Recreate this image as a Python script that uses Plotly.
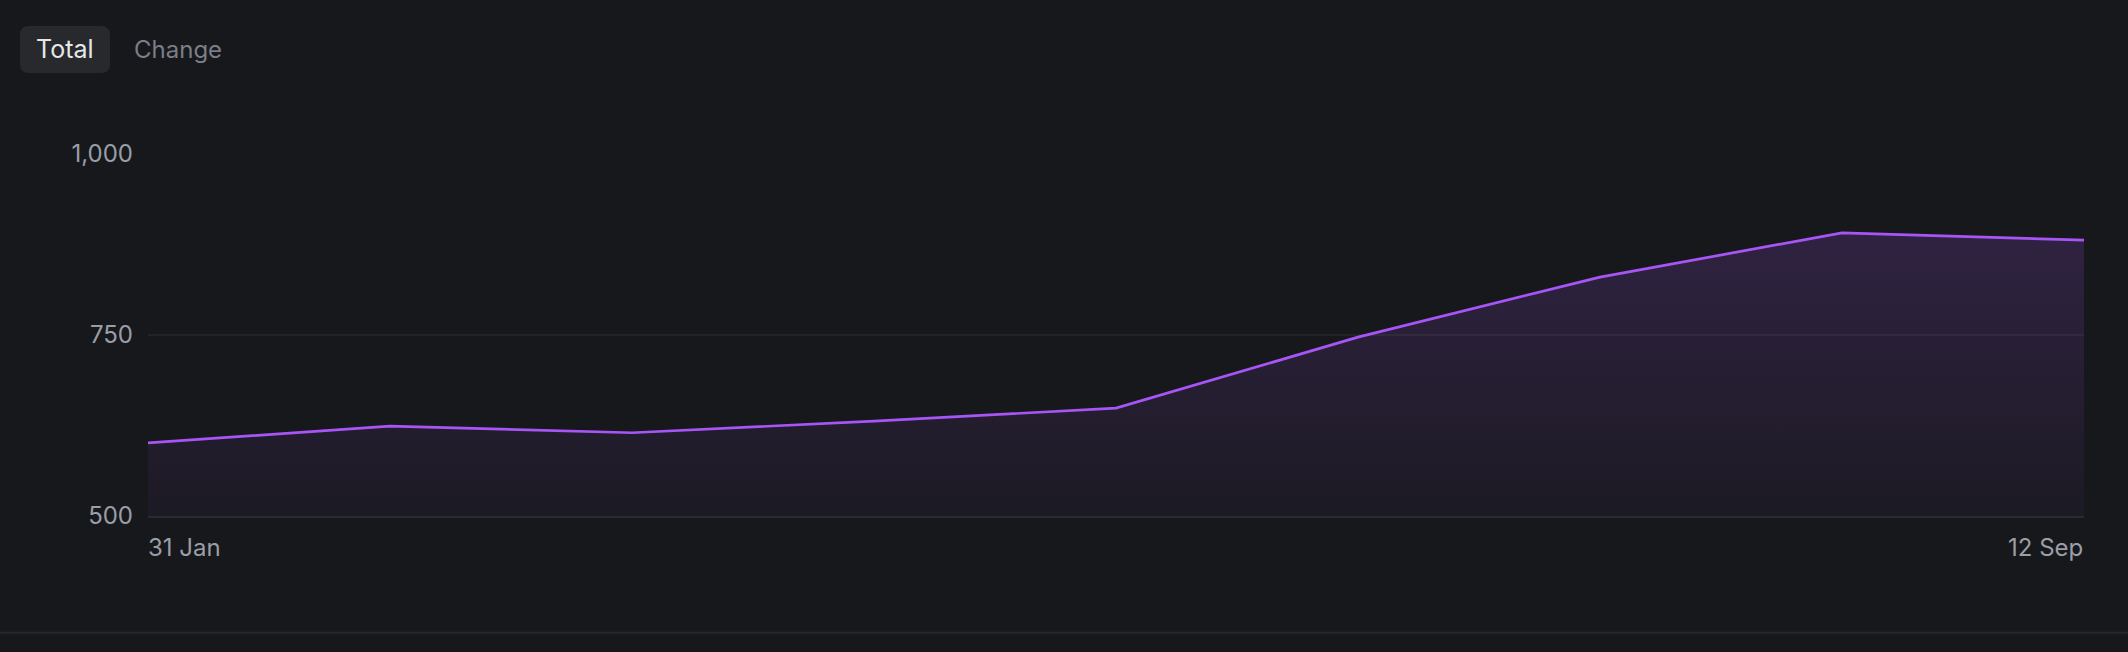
import plotly.graph_objects as go

# ---- data ----
dates = ["2025-01-31", "2025-02-28", "2025-03-28", "2025-04-25", "2025-05-23",
         "2025-06-20", "2025-07-18", "2025-08-15", "2025-09-12"]
totals = [601, 624, 615, 631, 649, 747, 830, 891, 881]
y_ticks = [500, 750, 1000]
y_tick_labels = ["500", "750", "1,000"]
x_edge_labels = ["31 Jan", "12 Sep"]
tabs = ["Total", "Change"]

W, H = 2128, 652
L, R = 148, 2084
T, B = 154, 515.7
pw, ph = R - L, B - T

def px(x):
    return (x - L) / pw

def py(y):
    return (B - y) / ph

BG = "#17181c"
PURPLE = "#a855f7"
FONT = "Inter"

fig = go.Figure()
fig.add_trace(go.Scatter(
    x=dates, y=totals, mode="lines",
    line=dict(color=PURPLE, width=2.7),
    fill="tozeroy",
    fillgradient=dict(type="vertical", start=500, stop=max(totals),
                      colorscale=[[0, "rgba(168,85,247,0.035)"], [1, "rgba(168,85,247,0.17)"]]),
    hoverinfo="skip", showlegend=False,
))

shapes = []
# tab box (rounded rect) for "Total"
x0, x1, y0, y1, r = 20, 110, 26, 73, 9
rx, ry = r / pw, r / ph
X0, X1, Y0, Y1 = px(x0), px(x1), py(y1), py(y0)
path = (f"M {X0+rx},{Y0} L {X1-rx},{Y0} Q {X1},{Y0} {X1},{Y0+ry} "
        f"L {X1},{Y1-ry} Q {X1},{Y1} {X1-rx},{Y1} L {X0+rx},{Y1} "
        f"Q {X0},{Y1} {X0},{Y1-ry} L {X0},{Y0+ry} Q {X0},{Y0} {X0+rx},{Y0} Z")
shapes.append(dict(type="path", path=path, xref="paper", yref="paper",
                   fillcolor="#27292d", line=dict(width=0), layer="below"))
# bottom separator
shapes.append(dict(type="line", xref="paper", yref="paper",
                   x0=px(0), x1=px(W), y0=py(632.3), y1=py(632.3),
                   line=dict(color="#26272b", width=2)))

annotations = [
    dict(text=tabs[0], x=px(65), y=py(49.5), xref="paper", yref="paper",
         showarrow=False, xanchor="center", yanchor="middle",
         font=dict(family=FONT, size=25, color="#e6e7ea")),
    dict(text=tabs[1], x=px(178), y=py(49.5), xref="paper", yref="paper",
         showarrow=False, xanchor="center", yanchor="middle",
         font=dict(family=FONT, size=24, color="#7a7e87")),
    dict(text=x_edge_labels[0], x=dates[0], y=py(547.5), xref="x", yref="paper",
         showarrow=False, xanchor="left", yanchor="middle", xshift=-2,
         font=dict(family=FONT, size=24, color="#9a9ea6")),
    dict(text=x_edge_labels[1], x=dates[-1], y=py(547.5), xref="x", yref="paper",
         showarrow=False, xanchor="right", yanchor="middle", xshift=1,
         font=dict(family=FONT, size=24, color="#9a9ea6")),
]

fig.update_layout(
    width=W, height=H,
    margin=dict(l=L, r=W - R, t=T, b=H - B),
    paper_bgcolor=BG, plot_bgcolor=BG,
    font=dict(family=FONT, color="#9a9ea6", size=24),
    shapes=shapes, annotations=annotations,
    xaxis=dict(range=[dates[0], dates[-1]], showgrid=False, showticklabels=False,
               zeroline=False, showline=True, linecolor="#2a2b30", linewidth=1.5,
               fixedrange=True),
    yaxis=dict(range=[500, 1000], tickvals=y_ticks, ticktext=y_tick_labels,
               showgrid=True, gridcolor="#222327", gridwidth=1.5, zeroline=False,
               ticks="", ticklabelstandoff=14, fixedrange=True,
               tickfont=dict(family=FONT, size=24, color="#9a9ea6")),
    hovermode=False,
)

fig.write_html(
    "out.html",
    config={"displayModeBar": False},
    post_script="document.body.style.margin='0';document.body.style.background='#17181c';",
)
